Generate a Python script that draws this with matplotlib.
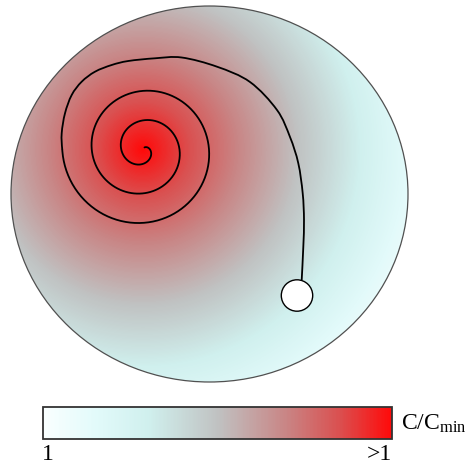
import numpy as np
import matplotlib
matplotlib.use("Agg")
import matplotlib.pyplot as plt
from matplotlib.patches import Ellipse, Circle
from matplotlib.path import Path
from matplotlib.patches import PathPatch
from matplotlib.colors import LinearSegmentedColormap

plt.rcParams['font.family'] = ['Liberation Serif', 'DejaVu Serif']
plt.rcParams['mathtext.fontset'] = 'custom'
plt.rcParams['mathtext.rm'] = 'Liberation Serif'

# everything is in picture pixels (x right, y down)
W, H = 471, 466

# disc
disc_center = (209.5, 194)
disc_size = (397, 376)

# concentration peak (= spiral centre) and gradient reach
peak = (143, 149.5)
reach = 310

# spiral: r = r0 + pitch*phi/(2 pi), phi clockwise from +x on screen
r0 = 7.0
pitch = 29.5
phi_start = -0.95
phi_end = 5 * np.pi

# tail of the path (after the spiral)
tail_x = [61.7, 65, 71.7, 81.7, 95, 111.7, 128.3, 155, 181.7, 217, 250,
          277, 290, 298.3, 302.7, 304, 303.3, 301.7]
tail_y = [133.3, 113.3, 95, 81.7, 71.7, 65, 61, 58.3, 57.5, 66.7, 82,
          110, 137, 163.3, 193.3, 220, 247, 280]

# exit hole
hole = (297, 295.5)
hole_r = 15.7

# colour scale
cmap_pos = [0.0, 0.15, 0.3, 0.5, 0.7, 0.85, 1.0]
cmap_col = ['#FAFFFF', '#E2FAFA', '#D0F0EE', '#C0C2C2', '#C98484', '#DA5050', '#FF0A0A']
cmap = LinearSegmentedColormap.from_list('conc', list(zip(cmap_pos, cmap_col)))
bar_labels = ['1', '>1']

fig = plt.figure(figsize=(W / 100, H / 100), dpi=100)
ax = fig.add_axes([0, 0, 1, 1])
ax.set_xlim(0, W)
ax.set_ylim(H, 0)
ax.axis('off')

# radial gradient clipped to the disc
xx, yy = np.meshgrid(np.arange(0, W) + 0.5, np.arange(0, H) + 0.5)
rr = np.hypot(xx - peak[0], yy - peak[1])
val = np.clip(1 - rr / reach, 0, 1)
im = ax.imshow(val, cmap=cmap, vmin=0, vmax=1, extent=(0, W, H, 0),
               interpolation='bilinear', zorder=1)
disc = Ellipse(disc_center, disc_size[0], disc_size[1], facecolor='none',
               edgecolor='#505050', lw=0.9, zorder=3)
ax.add_patch(disc)
im.set_clip_path(disc)

# spiral
phi = np.linspace(phi_start, phi_end, 800)
r = r0 + pitch * phi / (2 * np.pi)
sx = peak[0] + r * np.cos(phi)
sy = peak[1] + r * np.sin(phi)
ax.plot(sx, sy, color='black', lw=1.3, zorder=4, solid_capstyle='round')

# tail as a smooth bezier through the read points, starting where the spiral ends
pts = np.vstack([[sx[-1], sy[-1]], np.column_stack([tail_x, tail_y])]).astype(float)
ghost = np.array([sx[-10], sy[-10]])
verts = [pts[0]]
codes = [Path.MOVETO]
for i in range(len(pts) - 1):
    p0 = pts[i - 1] if i > 0 else ghost
    p1, p2 = pts[i], pts[i + 1]
    p3 = pts[i + 2] if i + 2 < len(pts) else p2
    verts += [p1 + (p2 - p0) / 6, p2 - (p3 - p1) / 6, p2]
    codes += [Path.CURVE4] * 3
ax.add_patch(PathPatch(Path(verts, codes), facecolor='none', edgecolor='black',
                       lw=1.3, zorder=4))

ax.add_patch(Circle(hole, hole_r, facecolor='white', edgecolor='black', lw=1.0, zorder=5))

# colour bar
cax = fig.add_axes([43 / W, (H - 439) / H, 349 / W, 32 / H])
cb = fig.colorbar(plt.cm.ScalarMappable(cmap=cmap), cax=cax, orientation='horizontal')
cb.set_ticks([])
cb.outline.set_edgecolor('#333333')
cb.outline.set_linewidth(1.3)

ax.text(42, 454, bar_labels[0], ha='left', va='center', fontsize=17)
ax.text(392, 454, bar_labels[1], ha='right', va='center', fontsize=17)
ax.text(401, 424, r'$\mathrm{C/C_{min}}$', ha='left', va='center', fontsize=17)

fig.savefig('out.png', dpi=100)
